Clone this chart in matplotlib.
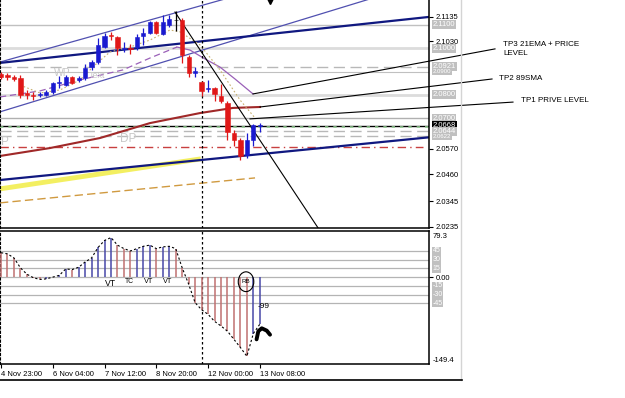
import numpy as np
import matplotlib.pyplot as plt
from matplotlib.patches import Ellipse
from matplotlib.lines import Line2D
from matplotlib.transforms import blended_transform_factory

plt.rcParams['font.family'] = ['Liberation Sans', 'DejaVu Sans']

# H4 candles
opens = [2.0889, 2.0885, 2.0877, 2.0872, 2.0808, 2.0799, 2.0799, 2.0799, 2.0812, 2.0851,
         2.0842, 2.0877, 2.0864, 2.0872, 2.0919, 2.0941, 2.1005, 2.1057, 2.1048, 2.0997,
         2.1001, 2.1005, 2.1052, 2.1065, 2.1112, 2.1061, 2.1099, 2.1121, 2.1121, 2.0962,
         2.0894, 2.0855, 2.0825, 2.0829, 2.0795, 2.0765, 2.0637, 2.0607, 2.0542, 2.0607,
         2.0667]
highs = [2.0898, 2.0894, 2.0885, 2.0885, 2.0821, 2.0812, 2.0812, 2.0821, 2.0855, 2.0881,
         2.0885, 2.0881, 2.0881, 2.0932, 2.0949, 2.1044, 2.1065, 2.1070, 2.1052, 2.1027,
         2.1018, 2.1061, 2.1087, 2.1117, 2.1117, 2.1142, 2.1142, 2.1159, 2.1129, 2.0971,
         2.0919, 2.0859, 2.0864, 2.0834, 2.0847, 2.0774, 2.0650, 2.0615, 2.0637, 2.0675,
         2.0679]
lows = [2.0868, 2.0864, 2.0859, 2.0787, 2.0782, 2.0778, 2.0791, 2.0795, 2.0804, 2.0829,
        2.0838, 2.0847, 2.0855, 2.0864, 2.0907, 2.0932, 2.1001, 2.1035, 2.0971, 2.0984,
        2.0975, 2.0992, 2.1014, 2.1061, 2.1061, 2.1057, 2.1091, 2.1074, 2.0937, 2.0877,
        2.0877, 2.0795, 2.0812, 2.0774, 2.0765, 2.0607, 2.0581, 2.0521, 2.0530, 2.0581,
        2.0641]
closes = [2.0877, 2.0877, 2.0868, 2.0799, 2.0799, 2.0795, 2.0804, 2.0812, 2.0851, 2.0855,
          2.0877, 2.0851, 2.0872, 2.0915, 2.0941, 2.1014, 2.1052, 2.1052, 2.1001, 2.1001,
          2.0997, 2.1048, 2.1065, 2.1112, 2.1065, 2.1112, 2.1125, 2.1121, 2.0971, 2.0894,
          2.0902, 2.0817, 2.0829, 2.0804, 2.0774, 2.0641, 2.0607, 2.0538, 2.0607, 2.0671,
          2.0671]

# oscillator histogram
osc = [42, 40, 33, 16, 5, -1, -4, -3, 0, 3,
       14, 13, 17, 26, 33, 51, 63, 68, 55, 49,
       45, 49, 53, 55, 49, 52, 53, 49, 16, -12,
       -44, -56, -64, -76, -84, -93, -107, -121, -136, -97,
       -81]

time_bars = [0, 8, 16, 24, 32, 40]
time_labels = ['4 Nov 23:00', '6 Nov 04:00', '7 Nov 12:00', '8 Nov 20:00',
               '12 Nov 00:00', '13 Nov 08:00']
price_ticks = [2.1135, 2.1030, 2.0570, 2.0460, 2.0345, 2.0235]
level_prices = [2.1100, 2.1000, 2.0921, 2.0900, 2.0800, 2.0700, 2.0668, 2.0644, 2.0622]
level_labels = ['2.1100', '2.1000', '2.0921', '2.0900', '2.0800', '2.0700', '2.0668',
                '2.0644', '2.0622']
osc_levels = [45, 30, 15, -15, -30, -45]

# moving averages / indicator curves (bar index, price)
ema_x = [-0.155, 6.03, 12.21, 18.86, 23.03, 27.2, 29.21, 31.53, 33.85, 36.17, 38.95]
ema_y = [2.0791, 2.0817, 2.0864, 2.0907, 2.0958, 2.1005, 2.0992, 2.0954, 2.0919, 2.0868, 2.0804]
sma_x = [-0.155, 7.57, 15.3, 23.03, 30.76, 35.86, 40.03]
sma_y = [2.0538, 2.0572, 2.0615, 2.0679, 2.0722, 2.0744, 2.0748]
fast_x = [2.94, 6.03, 9.12, 12.21, 14.53, 16.85, 19.94, 23.03, 26.12, 27.67, 30.76,
          33.85, 36.94, 39.26]
fast_y = [2.0842, 2.0808, 2.0821, 2.0864, 2.0928, 2.0984, 2.1005, 2.1035, 2.1078, 2.1070,
          2.1014, 2.0907, 2.0778, 2.0701]

# trend lines: (x0, x1), (p0, p1)
chan_up = ((-1, 40), (2.0934, 2.1253))
chan_lo = ((-1, 57), (2.0720, 2.1211))
navy_up = ((-0.155, 66.15), (2.0937, 2.1134))
navy_lo = ((-0.155, 66.15), (2.0435, 2.0618))
yellow = ((-0.155, 30.5), (2.0397, 2.0524))
orange = ((-0.155, 39.26), (2.0337, 2.0444))
diag = ((26.89, 50.5), (2.1155, 2.0167))
tp3 = ((38.95, 76.35), (2.0804, 2.0997))
tp2 = ((40.03, 75.89), (2.0748, 2.0868))
tp1 = ((38.49, 79.13), (2.0697, 2.0769))

W, H = 625, 398
fig = plt.figure(figsize=(W / 100, H / 100), dpi=100)
ax = fig.add_axes([0, 1 - 228 / H, 429 / W, 228 / H])
ax2 = fig.add_axes([0, 1 - 364 / H, 429 / W, 133 / H])
xlim = (-0.155, 66.15)

# ---------- main panel ----------
ax.set_xlim(xlim)
ax.set_ylim(2.02293, 2.12066)

hstyle = [('#c0c0c0', 1, '-'), ('#dcdcdc', 2, '-'), ('#b8b8b8', 1, (0, (8, 4))),
          ('#c0c0c0', 0.8, '-'), ('#dcdcdc', 2, '-'), ('#b0b0b0', 1, '-'),
          ('black', 1, '-'), ('#b8b8b8', 1, (0, (8, 4))), ('#b8b8b8', 1, (0, (8, 4)))]
for p, (c, lw, ls) in zip(level_prices, hstyle):
    ax.axhline(p, color=c, lw=lw, ls=ls, zorder=1)
ax.axhline(2.0662, color='#90c890', lw=1.2, ls=(0, (2, 3)), zorder=1)
ax.plot([-0.155, 65.2], [2.0577, 2.0577], color='#c84040', lw=1, ls=(0, (6, 3, 1, 3)), zorder=1)

ax.plot(*chan_up, color='#5050b0', lw=0.9, zorder=2)
ax.plot(*chan_lo, color='#5050b0', lw=0.9, zorder=2)
ax.plot(*yellow, color='#f2ee50', lw=3.5, alpha=0.9, zorder=2)
ax.plot(*navy_up, color='#101880', lw=1.6, zorder=2)
ax.plot(*navy_lo, color='#101880', lw=1.6, zorder=2)
ax.plot(*orange, color='#d09a40', lw=1, ls=(0, (6, 3)), zorder=2)
ax.plot(sma_x, sma_y, color='#a02828', lw=1.5, zorder=2)
ax.plot(ema_x[:6], ema_y[:6], color='#9a60b8', lw=0.9, ls=(0, (5, 3)), zorder=2)
ax.plot(ema_x[5:], ema_y[5:], color='#9a60b8', lw=0.9, zorder=2)
ax.plot(fast_x, fast_y, color='#c8b070', lw=0.8, ls=(0, (1.5, 2)), zorder=2)
ax.plot(*diag, color='black', lw=0.8, zorder=2)

sep = 31.07
ax.axvline(sep, color='black', lw=0.9, ls=(0, (2, 2)), zorder=2)
ax2.axvline(sep, color='black', lw=0.9, ls=(0, (2, 2)), zorder=2)

# candles
bars = np.arange(len(opens))
o, hi, lo, c = map(np.array, (opens, highs, lows, closes))
ccol = ['#1a1ad0' if cc > oo else ('#e01818' if cc < oo else 'black') for oo, cc in zip(o, c)]
ax.vlines(bars, lo, hi, colors=ccol, lw=0.9, zorder=4)
ax.bar(bars, np.maximum(np.abs(c - o), 0.0001), bottom=np.minimum(o, c), width=0.66,
       color=ccol, edgecolor=ccol, lw=0.4, zorder=5)
ax.plot(41.5, 2.1202, marker='v', ms=4, color='black', zorder=5)

# annotation lines to the right
for seg in (tp3, tp2, tp1):
    ax.plot(*seg, color='black', lw=0.8, clip_on=False, zorder=6)
ax.text(77.6, 2.0997, 'TP3 21EMA + PRICE\nLEVEL', fontsize=5.8, va='center', ha='left',
        linespacing=1.45)
ax.text(76.97, 2.0872, 'TP2 89SMA', fontsize=5.8, va='center', ha='left')
ax.text(80.37, 2.0774, 'TP1 PRIVE LEVEL', fontsize=5.8, va='center', ha='left')

# faint object labels
ax.text(9.43, 2.0894, 'WP', fontsize=7.5, color='#c8c8c8', ha='center', va='center', zorder=3)
ax.text(14.76, 2.0885, 'Text', fontsize=6.5, color='#c8c8c8', ha='center', va='center', zorder=3)
ax.text(19.7, 2.0611, 'DP', fontsize=8.5, color='#c8c8c8', ha='center', va='center', zorder=3)
ax.text(0.0, 2.0598, 'P', fontsize=8.5, color='#c8c8c8', ha='left', va='center', zorder=3)

# price axis
ax.yaxis.tick_right()
ax.set_yticks(price_ticks)
ax.set_yticklabels(['%.4f' % p for p in price_ticks])
ax.tick_params(axis='y', length=3, width=0.8, pad=1.5, labelsize=5.5, direction='out')
ax.set_xticks([])
tr = blended_transform_factory(ax.transAxes, ax.transData)
for p, lab in zip(level_prices, level_labels):
    small = lab in ('2.0900', '2.0622')
    fc = 'black' if lab == '2.0668' else '#c0c0c0'
    ax.text(1.008, p, lab, transform=tr, fontsize=4.3 if small else 5.5, color='white',
            ha='left', va='center', clip_on=False, zorder=7,
            bbox=dict(boxstyle='square,pad=0.12', fc=fc, ec='none'))

ax.spines['top'].set_visible(False)
ax.spines['left'].set_linestyle((0, (2, 2)))
for s in ('right', 'bottom'):
    ax.spines[s].set_linewidth(1.1)

# ---------- oscillator panel ----------
ax2.set_xlim(xlim)
ax2.set_ylim(-149.4, 79.3)
for lv in osc_levels + [0]:
    ax2.axhline(lv, color='#b4b4b4', lw=0.9, zorder=1)

ocol = ['#c07070']
for i in range(1, len(osc)):
    ocol.append('#4848a8' if osc[i] >= osc[i - 1] else '#c07070')
ax2.vlines(bars, 0, osc, colors=ocol, lw=1.1, zorder=3)
ax2.plot(bars, osc, color='black', lw=0.8, ls=(0, (2, 2)), zorder=4)

ax2.text(16.85, -11.4, 'VT', fontsize=6.2, ha='center', va='center', zorder=5)
ax2.text(19.83, -7.9, 'TC', fontsize=4.9, ha='center', va='center', zorder=5)
ax2.text(22.77, -7.9, 'VT', fontsize=5.3, ha='center', va='center', zorder=5)
ax2.text(25.76, -7.9, 'VT', fontsize=5.3, ha='center', va='center', zorder=5)
ax2.add_patch(Ellipse((37.87, -7.9), width=2.4, height=34, fill=False, ec='black',
                      lw=0.8, zorder=5))
ax2.text(37.87, -7.9, 'RB', fontsize=4.5, ha='center', va='center', zorder=5)
ax2.text(39.7, -50.4, '-99', fontsize=6, ha='left', va='center', zorder=5)
caret_x = [39.5, 39.77, 40.3, 41.07, 41.58]
caret_y = [-107, -93, -88, -92, -99]
ax2.plot(caret_x, caret_y, color='black', lw=2.8, solid_capstyle='round',
         solid_joinstyle='round', zorder=6)

ax2.set_yticks([0])
ax2.set_yticklabels(['0.00'])
ax2.yaxis.tick_right()
ax2.tick_params(axis='y', length=3, width=0.8, pad=1.5, labelsize=5.5)
tr2 = blended_transform_factory(ax2.transAxes, ax2.transData)
ax2.text(1.008, 76, '79.3', transform=tr2, fontsize=5.5, ha='left', va='top')
ax2.text(1.008, -149.4, '-149.4', transform=tr2, fontsize=5.5, ha='left', va='bottom')
for lv in osc_levels:
    ax2.text(1.008, lv, str(lv), transform=tr2, fontsize=5, color='white', ha='left',
             va='center', clip_on=False,
             bbox=dict(boxstyle='square,pad=0.1', fc='#c0c0c0', ec='none'))

ax2.set_xticks(time_bars)
ax2.set_xticklabels(time_labels, ha='left')
ax2.tick_params(axis='x', length=3, width=0.8, pad=2, labelsize=5.5)
ax2.spines['left'].set_linestyle((0, (2, 2)))
for s in ('right', 'bottom', 'top'):
    ax2.spines[s].set_linewidth(1.1)

# window edges
fig.add_artist(Line2D([461 / W, 461 / W], [1 - 380 / H, 1], color='#d4d4d4', lw=1))
fig.add_artist(Line2D([0, 462 / W], [1 - 379.5 / H] * 2, color='black', lw=1.2))

fig.savefig('out.png', dpi=100)
